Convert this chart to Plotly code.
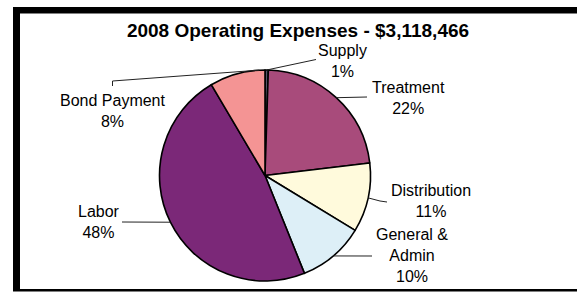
import math
import plotly.graph_objects as go

W, H = 577, 292

# ---- data ----
categories = ["Supply", "Treatment", "Distribution", "General &<br>Admin", "Labor", "Bond Payment"]
shares = [0.5, 22.6, 10.6, 10.2, 47.6, 8.5]          # % of total
pct_labels = ["1%", "22%", "11%", "10%", "48%", "8%"]  # printed percentages
colors = ["#55556a", "#A84B7B", "#FFFADC", "#DDEFF7", "#7B2878", "#F49494"]
title_text = "2008 Operating Expenses - $3,118,466"

# ---- layout helpers (pixel space) ----
cx, cy, R = 265, 175.5, 105.5

def px(x):
    return x / W

def py(y):
    return 1 - y / H

fig = go.Figure(go.Pie(
    values=shares,
    labels=categories,
    sort=False,
    direction="clockwise",
    rotation=0,
    marker=dict(colors=colors, line=dict(color="black", width=1.6)),
    textinfo="none",
    hoverinfo="label+percent",
    showlegend=False,
    domain=dict(x=[px(cx - R), px(cx + R)], y=[py(cy + R), py(cy - R)]),
))

# label positions (text block centres) and leader-line label ends
label_pos = [(342, 60.5), (408, 97.5), (431, 200.5), (412, 255), (99, 221.5), (112.5, 111)]
leader_ends = [
    [(316, 59.5)],
    [(367, 97)],
    [(380, 201), (387, 202)],
    [(372, 256)],
    [(122, 222)],
    [(112.5, 81), (112.5, 86)],
]
anchor_frac = [0.5, 0.5, 0.5, 0.5, 0.5, 0.9]

total = sum(shares)
shapes = [
    dict(type="rect", xref="paper", yref="paper", x0=px(13), x1=1.05, y0=py(291.5), y1=py(7),
         fillcolor="black", line=dict(width=0), layer="below"),
    dict(type="rect", xref="paper", yref="paper", x0=px(20), x1=1.05, y0=py(289), y1=py(13.5),
         fillcolor="white", line=dict(width=0), layer="below"),
]
annotations = []
cum = 0.0
for i, v in enumerate(shares):
    ang = 2 * math.pi * (cum + anchor_frac[i] * v) / total
    cum += v
    ax, ay = cx + R * math.sin(ang), cy - R * math.cos(ang)
    pts = [(ax, ay)] + leader_ends[i]
    for (x0, y0), (x1, y1) in zip(pts[:-1], pts[1:]):
        shapes.append(dict(type="line", xref="paper", yref="paper",
                           x0=px(x0), y0=py(y0), x1=px(x1), y1=py(y1),
                           line=dict(color="#222222", width=1)))
    lx, ly = label_pos[i]
    annotations.append(dict(
        text=f"{categories[i]}<br>{pct_labels[i]}",
        x=px(lx), y=py(ly), xref="paper", yref="paper",
        xanchor="center", yanchor="middle", showarrow=False, align="center",
        font=dict(family="Liberation Sans, Arial, sans-serif", size=16, color="black"),
    ))

fig.update_layout(
    width=W, height=H,
    margin=dict(l=0, r=0, t=0, b=0),
    paper_bgcolor="white",
    plot_bgcolor="white",
    title=dict(text=f"<b>{title_text}</b>", x=px(298), y=py(30),
               xanchor="center", yanchor="middle",
               font=dict(family="Liberation Sans, Arial, sans-serif", size=19, color="black")),
    shapes=shapes,
    annotations=annotations,
)

fig.write_html("out.html", config={"displayModeBar": False},
               post_script="document.body.style.margin='0';document.body.style.overflow='hidden';")
